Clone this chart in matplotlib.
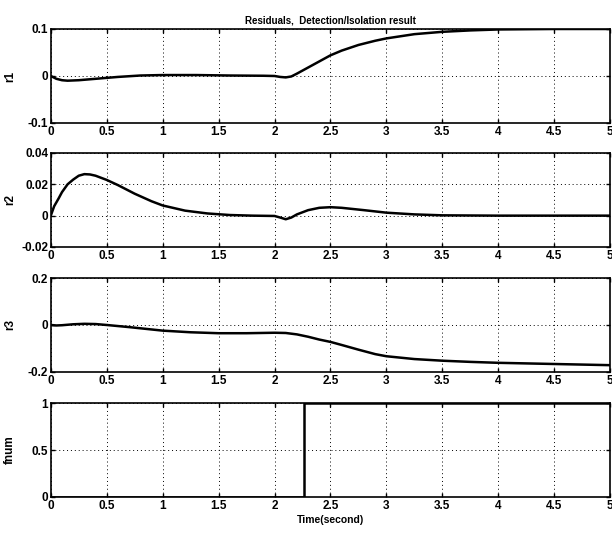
import matplotlib
matplotlib.use("Agg")
import matplotlib.pyplot as plt

plt.rcParams["font.family"] = ["Liberation Sans", "DejaVu Sans"]
plt.rcParams["font.weight"] = "bold"

# residual r1
t1 = [0, 0.05, 0.1, 0.15, 0.25, 0.4, 0.6, 0.8, 1.0, 1.3, 1.6, 1.9, 2.0, 2.05, 2.1, 2.15, 2.2,
      2.3, 2.4, 2.5, 2.6, 2.75, 2.9, 3.0, 3.25, 3.5, 3.75, 4.0, 4.25, 4.5, 5.0]
r1 = [0, -0.006, -0.009, -0.010, -0.009, -0.006, -0.002, 0.001, 0.002, 0.002, 0.001, 0.0005, 0.0,
      -0.002, -0.003, -0.001, 0.005, 0.018, 0.031, 0.044, 0.054, 0.066, 0.075, 0.080, 0.089,
      0.094, 0.097, 0.099, 0.0995, 0.1, 0.1]

# residual r2
t2 = [0, 0.03, 0.07, 0.1, 0.15, 0.2, 0.25, 0.3, 0.35, 0.4, 0.5, 0.6, 0.75, 0.9, 1.0, 1.2, 1.4,
      1.6, 1.8, 2.0, 2.05, 2.1, 2.15, 2.2, 2.3, 2.4, 2.5, 2.6, 2.8, 3.0, 3.25, 3.5, 4.0, 4.5, 5.0]
r2 = [0, 0.006, 0.011, 0.015, 0.020, 0.023, 0.0255, 0.0265, 0.0263, 0.0255, 0.0228, 0.0195,
      0.0140, 0.0092, 0.0065, 0.0032, 0.0014, 0.0004, 0.0, -0.0002, -0.0012, -0.0023, -0.0012,
      0.0008, 0.0035, 0.0050, 0.0054, 0.0050, 0.0035, 0.0019, 0.0008, 0.0002, 0.0, 0.0, 0.0]

# residual r3
t3 = [0, 0.05, 0.1, 0.2, 0.3, 0.4, 0.5, 0.7, 1.0, 1.25, 1.5, 1.75, 2.0, 2.1, 2.2, 2.3, 2.4, 2.5,
      2.6, 2.75, 2.9, 3.0, 3.25, 3.5, 3.75, 4.0, 4.5, 5.0]
r3 = [0, -0.002, -0.001, 0.003, 0.005, 0.004, 0.0, -0.009, -0.024, -0.031, -0.035, -0.035,
      -0.033, -0.034, -0.040, -0.050, -0.062, -0.072, -0.085, -0.105, -0.124, -0.133, -0.145,
      -0.152, -0.157, -0.161, -0.166, -0.171]

# isolation flag
t4 = [0, 2.26, 2.26, 5.0]
fnum = [0, 0, 1, 1]

xticks = [0, 0.5, 1, 1.5, 2, 2.5, 3, 3.5, 4, 4.5, 5]
xticklabels = ["0", "0.5", "1", "1.5", "2", "2.5", "3", "3.5", "4", "4.5", "5"]

panels = [
    (t1, r1, "r1", (-0.1, 0.1), [-0.1, 0, 0.1], ["-0.1", "0", "0.1"]),
    (t2, r2, "r2", (-0.02, 0.04), [-0.02, 0, 0.02, 0.04], ["-0.02", "0", "0.02", "0.04"]),
    (t3, r3, "r3", (-0.2, 0.2), [-0.2, 0, 0.2], ["-0.2", "0", "0.2"]),
    (t4, fnum, "fnum", (0, 1), [0, 0.5, 1], ["0", "0.5", "1"]),
]

fig = plt.figure(figsize=(6.12, 5.34), dpi=100)
tops = [0.9457, 0.7135, 0.4794, 0.2453]
h = 0.176
for i, (t, y, lab, ylim, yt, ytl) in enumerate(panels):
    ax = fig.add_axes([0.083, tops[i] - h, 0.914, h])
    ax.plot(t, y, color="black", linewidth=1.8)
    ax.set_xlim(0, 5)
    ax.set_ylim(*ylim)
    ax.set_xticks(xticks)
    ax.set_xticklabels(xticklabels, fontsize=8.5, fontweight="bold")
    ax.set_yticks(yt)
    ax.set_yticklabels(ytl, fontsize=8.5, fontweight="bold")
    ax.tick_params(direction="in", top=True, right=True, length=3, pad=2, width=1)
    ax.grid(True, color="black", linestyle=(0, (1, 3)), linewidth=0.7)
    for s in ax.spines.values():
        s.set_linewidth(1.2)
    ax.set_ylabel(lab, fontsize=8.5, fontweight="bold")
    ax.yaxis.set_label_coords(-0.062, 0.5)
    if i == 0:
        ax.set_title("Residuals,  Detection/Isolation result", fontsize=7, fontweight="bold", pad=4)
    if i == 3:
        ax.set_xlabel("Time(second)", fontsize=7.5, fontweight="bold", labelpad=2)

fig.savefig("out.png", dpi=100)
